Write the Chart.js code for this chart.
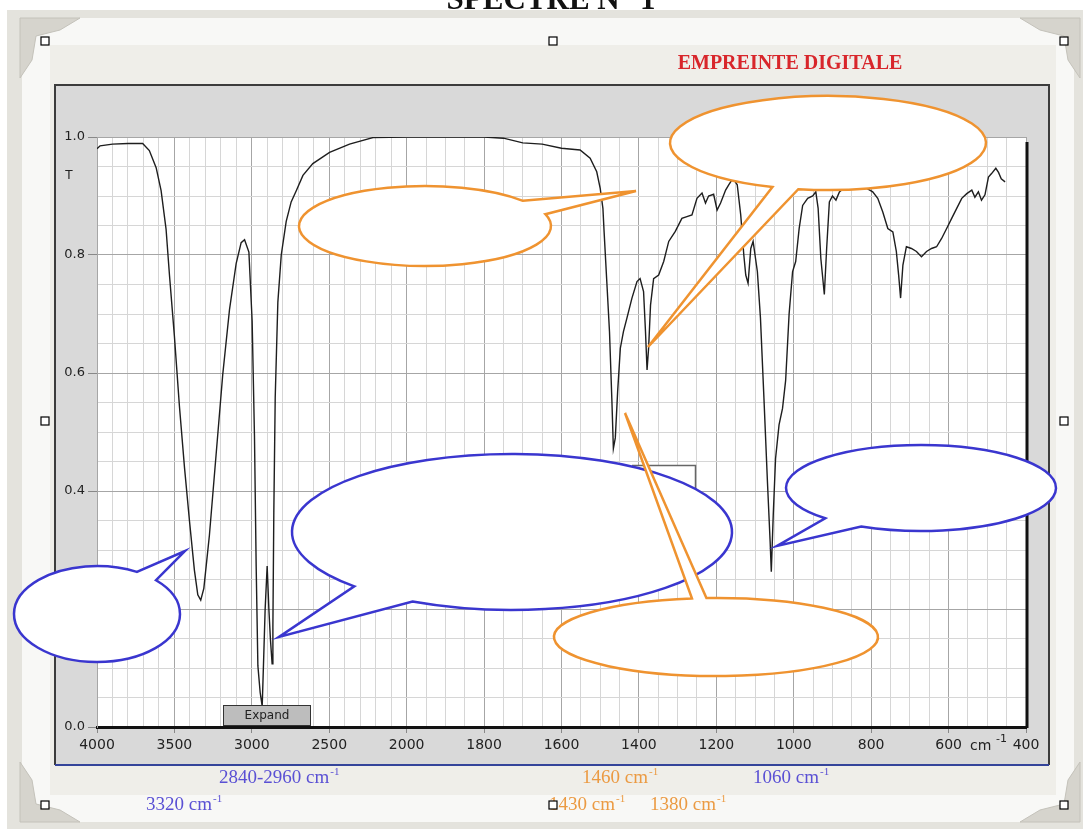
<!DOCTYPE html>
<html>
<head>
<meta charset="utf-8">
<script src="https://cdn.jsdelivr.net/npm/chart.js"></script>
<style>
  html, body { margin: 0; padding: 0; background: #fff; }
  canvas { display: block; }
</style>
</head>
<body>
<canvas id="spectre" width="1083" height="829"></canvas>
<script>
// Spectre IR : nombre d'onde (cm-1) et transmittance T
const nombresOnde = [
  4000, 3980, 3900, 3800, 3705, 3662, 3618, 3586, 3554, 3532, 3500, 3468, 3435, 3403, 3371, 3349, 3330, 3310,
  3274, 3231, 3188, 3144, 3101, 3069, 3047, 3019, 2998, 2983, 2972, 2961, 2946, 2933, 2925, 2914, 2901,
  2890, 2880, 2869, 2864, 2858, 2849, 2832, 2810, 2778, 2746, 2713, 2670, 2606, 2498, 2369, 2218, 2000,
  1900, 1800, 1750, 1700, 1650, 1600, 1552, 1526, 1509, 1500, 1493, 1490, 1483, 1476, 1470, 1466, 1461,
  1455, 1448, 1440, 1431, 1418, 1405, 1397, 1388, 1383, 1379, 1375, 1370, 1362, 1349, 1336, 1323, 1306,
  1289, 1276, 1263, 1250, 1237, 1228, 1220, 1207, 1198, 1189, 1176, 1168, 1157, 1146, 1137, 1129, 1124,
  1118, 1111, 1105, 1094, 1086, 1077, 1068, 1061, 1058, 1053, 1047, 1038, 1029, 1021, 1012, 1003, 995,
  986, 977, 964, 951, 943, 937, 930, 921, 915, 908, 900, 891, 882, 860, 830, 796, 783, 770, 757, 744,
  735, 729, 724, 718, 709, 696, 683, 670, 657, 644, 631, 618, 605, 592, 579, 566, 553, 540, 532, 523,
  515, 506, 497, 489, 478, 471, 464, 454
];
const transmittance = [
  0.980, 0.985, 0.988, 0.989, 0.989, 0.977, 0.948, 0.909, 0.844, 0.766, 0.662, 0.545, 0.440, 0.350, 0.266, 0.224, 0.215, 0.235,
  0.325, 0.461, 0.597, 0.708, 0.786, 0.821, 0.826, 0.805, 0.688, 0.494, 0.273, 0.104, 0.058, 0.035, 0.104, 0.200, 0.273,
  0.200, 0.149, 0.107, 0.169, 0.364, 0.558, 0.720, 0.800, 0.857, 0.890, 0.909, 0.935, 0.955, 0.974, 0.988, 0.999, 1.000,
  1.000, 1.000, 0.998, 0.990, 0.988, 0.981, 0.978, 0.964, 0.941, 0.913, 0.879, 0.840, 0.755, 0.670, 0.557, 0.472, 0.490,
  0.568, 0.642, 0.670, 0.693, 0.727, 0.755, 0.760, 0.738, 0.670, 0.605, 0.642, 0.715, 0.760, 0.766, 0.789, 0.823, 0.840,
  0.862, 0.865, 0.868, 0.896, 0.905, 0.888, 0.900, 0.903, 0.876, 0.888, 0.910, 0.919, 0.930, 0.919, 0.868, 0.800, 0.766,
  0.752, 0.811, 0.823, 0.772, 0.693, 0.557, 0.416, 0.314, 0.263, 0.359, 0.455, 0.512, 0.540, 0.587, 0.700, 0.772, 0.789,
  0.845, 0.884, 0.896, 0.900, 0.907, 0.879, 0.794, 0.733, 0.811, 0.890, 0.900, 0.893, 0.907, 0.920, 0.920, 0.907, 0.896, 0.873, 0.845, 0.839,
  0.806, 0.766, 0.727, 0.783, 0.814, 0.811, 0.806, 0.797, 0.806, 0.811, 0.814, 0.828, 0.845, 0.862, 0.879, 0.896, 0.904, 0.910, 0.898, 0.907,
  0.893, 0.902, 0.932, 0.938, 0.947, 0.940, 0.929, 0.924
];
const xGraduations = [4000, 3500, 3000, 2500, 2000, 1800, 1600, 1400, 1200, 1000, 800, 600, 400];
const yGraduations = [0.0, 0.2, 0.4, 0.6, 0.8, 1.0];

// axe en deux parties : 500 cm-1 par case au-dessus de 2000, 200 cm-1 en dessous
function posX(w) {
  return w >= 2000 ? (4000 - w) / 500 : 4 + (2000 - w) / 200;
}

const points = nombresOnde.map((w, i) => ({ x: posX(w), y: transmittance[i] }));

const orange = '#ef9330';
const bleu = '#3a36cf';

// bulles : centre, rayons, angles de la base de la pointe, pointe
const bulles = [
  { cx: 97, cy: 614, rx: 83, ry: 48, a1: -1.07, a2: -0.78, tip: [185, 551], c: bleu },
  { cx: 512, cy: 532, rx: 220, ry: 78, a1: 2.04, a2: 2.37, tip: [279, 637], c: bleu },
  { cx: 921, cy: 488, rx: 135, ry: 43, a1: 2.03, a2: 2.36, tip: [777, 546], c: bleu },
  { cx: 425, cy: 226, rx: 126, ry: 40, a1: -0.68, a2: -0.30, tip: [636, 191], c: orange },
  { cx: 828, cy: 143, rx: 158, ry: 47, a1: 1.76, a2: 1.93, tip: [648, 347], c: orange },
  { cx: 716, cy: 637, rx: 162, ry: 39, a1: -1.72, a2: -1.63, tip: [625, 413], c: orange }
];

const etiquettes = [
  { t: '2840-2960', x: 219, y: 783, c: '#5a50d4' },
  { t: '3320', x: 146, y: 810, c: '#5a50d4' },
  { t: '1460', x: 582, y: 783, c: '#eb9a42' },
  { t: '1430', x: 549, y: 810, c: '#eb9a42' },
  { t: '1380', x: 650, y: 810, c: '#eb9a42' },
  { t: '1060', x: 753, y: 783, c: '#5a50d4' }
];

function texteCm(ctx, num, x, y, col) {
  ctx.fillStyle = col;
  ctx.font = '19px "Liberation Serif", serif';
  ctx.textAlign = 'left';
  ctx.textBaseline = 'alphabetic';
  const s = num + ' cm';
  ctx.fillText(s, x, y);
  const w = ctx.measureText(s).width;
  ctx.font = '11px "Liberation Serif", serif';
  ctx.fillText('-1', x + w + 1, y - 8);
}

function poignee(ctx, x, y) {
  ctx.fillStyle = '#fff';
  ctx.fillRect(x - 4, y - 4, 8, 8);
  ctx.strokeStyle = '#000';
  ctx.lineWidth = 1.2;
  ctx.strokeRect(x - 4, y - 4, 8, 8);
}

function coin(ctx, pts) {
  ctx.beginPath();
  ctx.moveTo(pts[0][0], pts[0][1]);
  for (let i = 1; i < pts.length; i++) ctx.lineTo(pts[i][0], pts[i][1]);
  ctx.closePath();
  ctx.fillStyle = '#d6d4cd';
  ctx.fill();
  ctx.strokeStyle = '#c4c2ba';
  ctx.lineWidth = 1;
  ctx.stroke();
}

const cadre = {
  id: 'cadre',
  beforeDraw(chart) {
    const ctx = chart.ctx;
    const a = chart.chartArea;
    ctx.save();
    ctx.fillStyle = '#fff';
    ctx.fillRect(0, 0, 1083, 829);
    ctx.fillStyle = '#e4e3dd';
    ctx.fillRect(7, 10, 1076, 819);
    ctx.fillStyle = '#f8f8f6';
    ctx.fillRect(22, 18, 1052, 804);
    ctx.fillStyle = '#efeee9';
    ctx.fillRect(50, 45, 1006, 750);
    // coins
    coin(ctx, [[20, 18], [80, 18], [60, 30], [36, 36], [32, 60], [20, 78]]);
    coin(ctx, [[1080, 18], [1020, 18], [1040, 30], [1064, 36], [1068, 60], [1080, 78]]);
    coin(ctx, [[20, 822], [80, 822], [60, 810], [36, 804], [32, 780], [20, 762]]);
    coin(ctx, [[1080, 822], [1020, 822], [1040, 810], [1064, 804], [1068, 780], [1080, 762]]);
    // panneau gris
    ctx.fillStyle = '#d9d9d9';
    ctx.fillRect(55, 85, 994, 680);
    ctx.strokeStyle = '#3c3c3c';
    ctx.lineWidth = 2;
    ctx.beginPath();
    ctx.moveTo(55, 765); ctx.lineTo(55, 85); ctx.lineTo(1049, 85); ctx.lineTo(1049, 765);
    ctx.stroke();
    ctx.strokeStyle = '#34449a';
    ctx.beginPath();
    ctx.moveTo(55, 765); ctx.lineTo(1049, 765);
    ctx.stroke();
    ctx.fillStyle = '#fff';
    ctx.fillRect(a.left, a.top, a.right - a.left, a.bottom - a.top);
    // titre coupé en haut
    ctx.fillStyle = '#111';
    ctx.font = 'bold 31px "Liberation Serif", serif';
    ctx.textAlign = 'center';
    ctx.textBaseline = 'alphabetic';
    ctx.fillText('SPECTRE N° 1', 551, 9);
    ctx.fillStyle = '#d8262b';
    ctx.font = 'bold 20px "Liberation Serif", serif';
    ctx.fillText('EMPREINTE DIGITALE', 790, 69);
    ctx.restore();
  },
  afterDraw(chart) {
    const ctx = chart.ctx;
    const a = chart.chartArea;
    ctx.save();
    // bord droit noir
    ctx.strokeStyle = '#111';
    ctx.lineWidth = 3;
    ctx.beginPath();
    ctx.moveTo(a.right + 1, a.top + 5);
    ctx.lineTo(a.right + 1, a.bottom + 1);
    ctx.stroke();
    // T et cm-1
    ctx.fillStyle = '#222';
    ctx.font = '12px "DejaVu Sans", sans-serif';
    ctx.textAlign = 'center';
    ctx.textBaseline = 'middle';
    ctx.fillText('T', 69, 176);
    ctx.font = '14px "DejaVu Sans", sans-serif';
    ctx.textAlign = 'left';
    ctx.fillText('cm', 970, 746);
    ctx.font = '11px "DejaVu Sans", sans-serif';
    ctx.fillText('-1', 996, 739);
    // bouton Expand
    ctx.fillStyle = '#bdbdbd';
    ctx.fillRect(223, 705, 88, 21);
    ctx.strokeStyle = '#333';
    ctx.lineWidth = 1;
    ctx.strokeRect(223.5, 705.5, 87, 20);
    ctx.fillStyle = '#222';
    ctx.font = '12px "DejaVu Sans", sans-serif';
    ctx.textAlign = 'center';
    ctx.fillText('Expand', 267, 716);
    // petit cadre derrière la bulle
    ctx.fillStyle = '#fff';
    ctx.fillRect(632, 465, 64, 40);
    ctx.strokeStyle = '#666';
    ctx.lineWidth = 1.5;
    ctx.beginPath();
    ctx.moveTo(632, 465.5); ctx.lineTo(695.5, 465.5); ctx.lineTo(695.5, 505);
    ctx.stroke();
    // bulles
    bulles.forEach(b => {
      ctx.beginPath();
      ctx.ellipse(b.cx, b.cy, b.rx, b.ry, 0, b.a2, b.a1 + 2 * Math.PI, false);
      ctx.lineTo(b.tip[0], b.tip[1]);
      ctx.closePath();
      ctx.fillStyle = '#fff';
      ctx.fill();
      ctx.strokeStyle = b.c;
      ctx.lineWidth = 2.5;
      ctx.lineJoin = 'miter';
      ctx.stroke();
    });
    // étiquettes
    etiquettes.forEach(e => texteCm(ctx, e.t, e.x, e.y, e.c));
    // poignées
    [[45, 41], [553, 41], [1064, 41], [45, 421], [1064, 421], [45, 805], [553, 805], [1064, 805]]
      .forEach(p => poignee(ctx, p[0], p[1]));
    ctx.restore();
  }
};

const grilleX = [];
for (let w = 4000; w > 2000; w -= 100) grilleX.push(w);
for (let w = 2000; w >= 400; w -= 50) grilleX.push(w);

const ctx = document.getElementById('spectre').getContext('2d');
new Chart(ctx, {
  type: 'line',
  data: {
    datasets: [{
      data: points,
      borderColor: '#1e1e1e',
      borderWidth: 1.4,
      pointRadius: 0,
      tension: 0
    }]
  },
  options: {
    responsive: false,
    animation: false,
    devicePixelRatio: 1,
    layout: { padding: { left: 0, right: 57, top: 137, bottom: 72 } },
    plugins: { legend: { display: false }, tooltip: { enabled: false } },
    scales: {
      x: {
        type: 'linear',
        min: 0,
        max: 12,
        afterFit(s) { s.height = 30; },
        afterBuildTicks(s) {
          s.ticks = grilleX.map(w => ({ value: posX(w), wn: w, main: xGraduations.includes(w) }));
        },
        ticks: {
          autoSkip: false,
          maxRotation: 0,
          padding: 4,
          color: '#222',
          font: { family: 'DejaVu Sans', size: 14 },
          callback(v, i, t) { return t[i].main ? String(t[i].wn) : ''; }
        },
        grid: {
          color: c => (c.tick && c.tick.main) ? '#a6a6a6' : '#d6d6d6',
          tickColor: c => (c.tick && c.tick.main) ? '#888' : 'rgba(0,0,0,0)',
          tickLength: 6
        },
        border: { color: '#111', width: 3 }
      },
      y: {
        min: 0,
        max: 1,
        afterFit(s) { s.width = 97; },
        afterBuildTicks(s) {
          const t = [];
          for (let i = 0; i <= 20; i++) {
            const v = Math.round(i * 5) / 100;
            t.push({ value: v, main: yGraduations.some(g => Math.abs(g - v) < 1e-6) });
          }
          s.ticks = t;
        },
        ticks: {
          autoSkip: false,
          padding: 3,
          color: '#222',
          font: { family: 'DejaVu Sans', size: 13 },
          callback(v, i, t) { return t[i].main ? v.toFixed(1) : ''; }
        },
        grid: {
          color: c => (c.tick && c.tick.main) ? '#a6a6a6' : '#d6d6d6',
          tickColor: c => (c.tick && c.tick.main) ? '#888' : 'rgba(0,0,0,0)',
          tickLength: 9
        },
        border: { color: '#a6a6a6', width: 1 }
      }
    }
  },
  plugins: [cadre]
});
</script>
</body>
</html>
